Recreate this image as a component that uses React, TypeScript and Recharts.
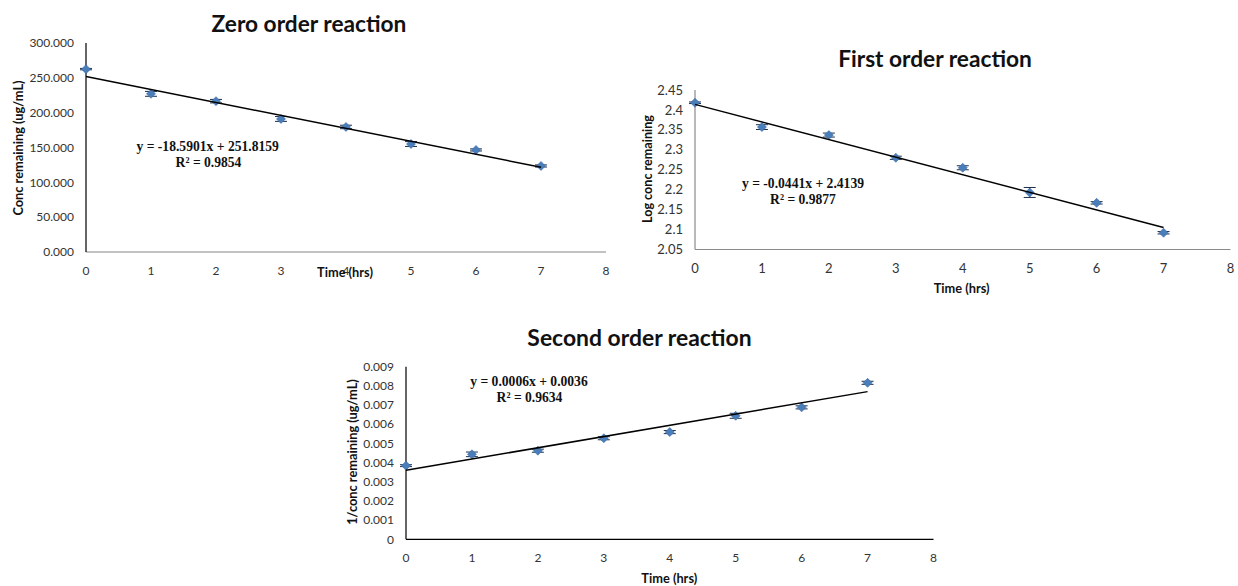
import React from 'react';
import { ScatterChart, Scatter, XAxis, YAxis, ErrorBar } from 'recharts';

// ---- shared ----
const timeHrs = [0, 1, 2, 3, 4, 5, 6, 7];
const xTicks = [0, 1, 2, 3, 4, 5, 6, 7, 8];
const trendX = [0, 7];

// ---- zero order ----
const zeroConc = [262.5, 227, 216.5, 191, 179.5, 155, 146.5, 123.5];
const zeroErr = [1, 3.5, 2.5, 3.5, 2.5, 3.5, 1.5, 1.5];
const zeroTrendY = [251.8, 121.7];
const zeroTicks = [0, 50, 100, 150, 200, 250, 300];

// ---- first order ----
const firstLog = [2.418, 2.357, 2.337, 2.28, 2.255, 2.193, 2.167, 2.092];
const firstErr = [0.002, 0.006, 0.005, 0.004, 0.005, 0.0125, 0.003, 0.003];
const firstTrendY = [2.414, 2.105];
const firstTicks = [2.05, 2.1, 2.15, 2.2, 2.25, 2.3, 2.35, 2.4, 2.45];

// ---- second order ----
const secondInv = [0.00384, 0.00443, 0.00462, 0.00527, 0.00559, 0.00644, 0.00688, 0.00816];
const secondErr = [0.00005, 0.00012, 0.00008, 0.00008, 0.00008, 0.00013, 0.00008, 0.00008];
const secondTrendY = [0.0036, 0.0077];
const secondTicks = [0, 0.001, 0.002, 0.003, 0.004, 0.005, 0.006, 0.007, 0.008, 0.009];

const SANS = "Lato, 'Open Sans', sans-serif";
const SERIF = "'Liberation Serif', 'Times New Roman', serif";
const MARKER = '#4a7ebb';

const Diamond = (props: any) => {
  const { cx, cy } = props;
  if (cx == null || cy == null) return <g />;
  const r = 4.5;
  return (
    <polygon
      points={`${cx},${cy - r} ${cx + r},${cy} ${cx},${cy + r} ${cx - r},${cy}`}
      fill={MARKER}
      stroke="#3b6aa3"
      strokeWidth={0.6}
    />
  );
};

const NoShape = () => <g />;

type PanelProps = {
  left: number;
  top: number;
  width: number;
  height: number;
  margin: { top: number; right: number; bottom: number; left: number };
  yWidth: number;
  yDomain: [number, number];
  yTicks: number[];
  yFmt: (v: number) => string;
  values: number[];
  errors: number[];
  trendY: number[];
  yAxisColor: string;
  xAxisColor: string;
  tickSize: number;
};

const Panel = (p: PanelProps) => {
  const points = timeHrs.map((x, i) => ({ x, y: p.values[i], err: p.errors[i] }));
  const trend = trendX.map((x, i) => ({ x, y: p.trendY[i] }));
  const tickStyle = { fontSize: p.tickSize, fontFamily: SANS, fill: '#333' };
  return (
    <div style={{ position: 'absolute', left: p.left, top: p.top }}>
      <ScatterChart width={p.width} height={p.height} margin={p.margin}>
        <XAxis
          type="number"
          dataKey="x"
          domain={[0, 8]}
          ticks={xTicks}
          interval={0}
          tickLine={false}
          tickSize={0}
          tickMargin={14}
          height={30}
          axisLine={{ stroke: p.xAxisColor, strokeWidth: 1.2 }}
          tick={tickStyle}
        />
        <YAxis
          type="number"
          dataKey="y"
          domain={p.yDomain}
          ticks={p.yTicks}
          interval={0}
          allowDataOverflow
          tickLine={false}
          tickSize={0}
          tickMargin={12}
          width={p.yWidth}
          axisLine={{ stroke: p.yAxisColor, strokeWidth: 1.2 }}
          tick={tickStyle}
          tickFormatter={p.yFmt}
        />
        <Scatter data={points} shape={Diamond} isAnimationActive={false}>
          <ErrorBar dataKey="err" direction="y" width={6} stroke="#1d2f4a" strokeWidth={1} isAnimationActive={false} />
        </Scatter>
        <Scatter
          data={trend}
          shape={NoShape}
          line={{ stroke: '#000', strokeWidth: 1.5 }}
          isAnimationActive={false}
        />
      </ScatterChart>
    </div>
  );
};

const T = (props: {
  x: number;
  y: number;
  text: string;
  size: number;
  family: string;
  bold?: boolean;
  rotate?: boolean;
}) => (
  <div
    style={{
      position: 'absolute',
      left: props.x,
      top: props.y,
      transform: `translate(-50%, -50%)${props.rotate ? ' rotate(-90deg)' : ''}`,
      fontSize: props.size,
      fontFamily: props.family,
      fontWeight: props.bold ? 700 : 400,
      whiteSpace: 'nowrap',
      lineHeight: 1,
      color: '#111',
    }}
  >
    {props.text}
  </div>
);

export default function App() {
  return (
    <div
      style={{
        position: 'absolute',
        left: 0,
        top: 0,
        width: 1238,
        height: 586,
        background: '#fff',
        overflow: 'hidden',
      }}
    >
      <Panel
        left={0}
        top={0}
        width={620}
        height={290}
        margin={{ top: 43, right: 14, bottom: 8, left: 0 }}
        yWidth={86}
        yDomain={[0, 300]}
        yTicks={zeroTicks}
        yFmt={(v) => v.toFixed(3)}
        values={zeroConc}
        errors={zeroErr}
        trendY={zeroTrendY}
        yAxisColor="#000"
        xAxisColor="#868686"
        tickSize={12}
      />
      <Panel
        left={600}
        top={0}
        width={638}
        height={300}
        margin={{ top: 90, right: 7.5, bottom: 20.5, left: 0 }}
        yWidth={95}
        yDomain={[2.05, 2.45]}
        yTicks={firstTicks}
        yFmt={(v) => String(v)}
        values={firstLog}
        errors={firstErr}
        trendY={firstTrendY}
        yAxisColor="#8a8a8a"
        xAxisColor="#8a8a8a"
        tickSize={13}
      />
      <Panel
        left={300}
        top={300}
        width={660}
        height={286}
        margin={{ top: 66.7, right: 26.5, bottom: 16.7, left: 0 }}
        yWidth={106}
        yDomain={[0, 0.009]}
        yTicks={secondTicks}
        yFmt={(v) => String(v)}
        values={secondInv}
        errors={secondErr}
        trendY={secondTrendY}
        yAxisColor="#000"
        xAxisColor="#000"
        tickSize={12}
      />

      {/* titles */}
      <T x={309} y={24} text="Zero order reaction" size={22.7} family={SANS} bold />
      <T x={935} y={58.5} text="First order reaction" size={22.7} family={SANS} bold />
      <T x={639.5} y={337} text="Second order reaction" size={22.9} family={SANS} bold />

      {/* axis titles */}
      <T x={17.5} y={147.5} text="Conc remaining (ug/mL)" size={12.8} family={SANS} bold rotate />
      <T x={345} y={272} text="Time (hrs)" size={12.8} family={SANS} bold />
      <T x={648} y={169} text="Log conc remaining" size={12.6} family={SANS} bold rotate />
      <T x={961.7} y={288.3} text="Time (hrs)" size={12.8} family={SANS} bold />
      <T x={351.7} y={452} text="1/conc remaining (ug/mL)" size={12.8} family={SANS} bold rotate />
      <T x={669.3} y={577.7} text="Time (hrs)" size={12.8} family={SANS} bold />

      {/* trendline equations */}
      <T x={207.7} y={146.7} text="y = -18.5901x + 251.8159" size={13.6} family={SERIF} bold />
      <T x={208.5} y={163.3} text="R² = 0.9854" size={13.6} family={SERIF} bold />
      <T x={803} y={184} text="y = -0.0441x + 2.4139" size={13.6} family={SERIF} bold />
      <T x={803} y={200} text="R² = 0.9877" size={13.6} family={SERIF} bold />
      <T x={529} y={381.7} text="y = 0.0006x + 0.0036" size={13.6} family={SERIF} bold />
      <T x={529.5} y={398.3} text="R² = 0.9634" size={13.6} family={SERIF} bold />
    </div>
  );
}
